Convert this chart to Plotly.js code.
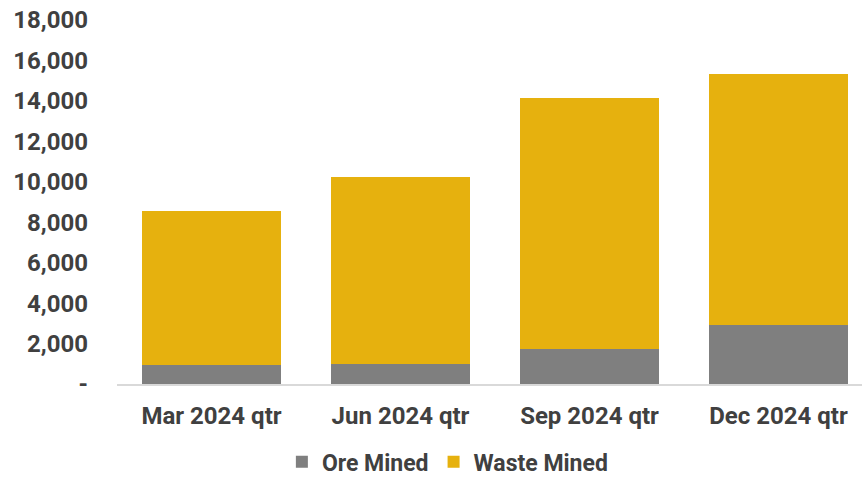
<!DOCTYPE html>
<html>
<head>
<meta charset="utf-8">
<script src="https://cdn.plot.ly/plotly-3.0.1.min.js"></script>
<style>html,body{margin:0;padding:0;background:#fff}#chart{width:862px;height:478px}</style>
</head>
<body>
<div id="chart"></div>
<script>
const categories = ["Mar 2024 qtr", "Jun 2024 qtr", "Sep 2024 qtr", "Dec 2024 qtr"];
const oreMined = [950, 990, 1740, 2910];
const wasteMined = [7610, 9260, 12420, 12420];
const yTickVals = [0, 2000, 4000, 6000, 8000, 10000, 12000, 14000, 16000, 18000];
const yTickText = ["-", "2,000", "4,000", "6,000", "8,000", "10,000", "12,000", "14,000", "16,000", "18,000"];

const font = {family: "Roboto, 'Noto Sans', sans-serif", size: 24, color: "#404040", weight: "bold"};
const legendFont = {family: "Roboto, 'Noto Sans', sans-serif", size: 23, color: "#404040", weight: "bold"};

const traces = [
  {type: "bar", name: "Ore Mined", x: categories, y: oreMined, marker: {color: "#7f7f7f"}, hoverinfo: "skip"},
  {type: "bar", name: "Waste Mined", x: categories, y: wasteMined, marker: {color: "#e6b10e"}, hoverinfo: "skip"}
];

const layout = {
  width: 862, height: 478,
  barmode: "stack",
  bargap: 0.26,
  margin: {l: 117, r: 0, t: 20, b: 94, autoexpand: false},
  paper_bgcolor: "#fff", plot_bgcolor: "#fff",
  font: font,
  xaxis: {
    range: [-0.5, 3.442],
    showline: true, linecolor: "#d9d9d9", linewidth: 1.5,
    showgrid: false, ticks: "", tickfont: font, ticklabelstandoff: 10
  },
  yaxis: {
    range: [0, 18000],
    tickvals: yTickVals, ticktext: yTickText,
    showgrid: false, zeroline: false, showline: false,
    ticks: "", tickfont: font, ticklabelstandoff: 28
  },
  showlegend: true,
  legend: {
    orientation: "h", xref: "container", yref: "paper",
    x: 0.519, xanchor: "center", y: -0.214, yanchor: "middle",
    font: legendFont, traceorder: "normal", itemwidth: 30,
    bgcolor: "rgba(0,0,0,0)"
  }
};

Plotly.newPlot("chart", traces, layout, {displayModeBar: false, staticPlot: true});
</script>
</body>
</html>
